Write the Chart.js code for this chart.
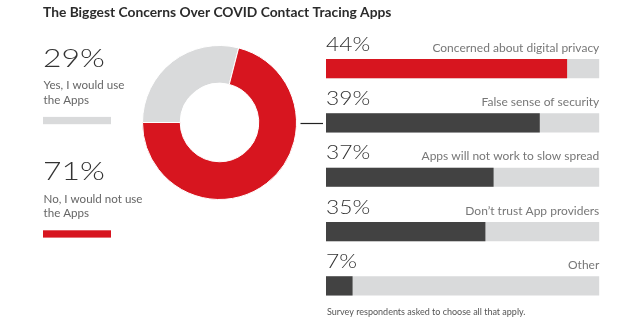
<!DOCTYPE html>
<html><head><meta charset="utf-8">
<script src="https://cdn.jsdelivr.net/npm/chart.js@4/dist/chart.umd.min.js"></script>
<style>
html,body{margin:0;padding:0;background:#fff;}
#wrap{position:relative;width:620px;height:326px;overflow:hidden;}
#wrap canvas{position:absolute;left:0;top:0;}
</style></head><body>
<div id="wrap">
<canvas id="donut" width="620" height="326"></canvas>
<canvas id="bars" width="620" height="326"></canvas>
</div>
<script>
// ---- data ----
const chartTitle = 'The Biggest Concerns Over COVID Contact Tracing Apps';
const answerLabels = [['Yes, I would use', 'the Apps'], ['No, I would not use', 'the Apps']];
const answerValues = [29, 71];
const concernLabels = ['Concerned about digital privacy', 'False sense of security',
  'Apps will not work to slow spread', 'Don\u2019t trust App providers', 'Other'];
const concernShares = [44, 39, 37, 35, 7];               // printed percentages
const concernBarLengths = [88.1, 78.1, 61.2, 58.2, 9.6]; // bar length as drawn (% of track)
const trackValues = [100, 100, 100, 100, 100];
const footnote = 'Survey respondents asked to choose all that apply.';

// ---- styles ----
const RED = '#d7151f', LIGHT = '#d9dadb', DARK = '#424242';
const FONT = 'Lato, "Open Sans", sans-serif';

Chart.defaults.animation = false;
Chart.defaults.events = [];
Chart.defaults.plugins.legend.display = false;
Chart.defaults.plugins.tooltip.enabled = false;

function wideText(ctx, s, x, y, sx) {
  ctx.save();
  ctx.translate(x, y);
  ctx.scale(sx, 1);
  ctx.fillText(s, 0, 0);
  ctx.restore();
}

const donutText = {
  id: 'donutText',
  afterDraw(chart) {
    const ctx = chart.ctx;
    const arc = chart.getDatasetMeta(0).data[0];
    ctx.save();
    ctx.textBaseline = 'alphabetic';
    // title
    ctx.fillStyle = '#2b2b2b';
    ctx.font = 'bold 13.8px ' + FONT;
    ctx.fillText(chartTitle, 43, 17);
    // connector line
    ctx.strokeStyle = '#222';
    ctx.lineWidth = 1.2;
    ctx.beginPath();
    ctx.moveTo(arc.x + arc.outerRadius + 4, Math.round(arc.y) + 0.5);
    ctx.lineTo(323, Math.round(arc.y) + 0.5);
    ctx.stroke();
    // left legend
    const colors = [LIGHT, RED];
    const bases = [66.6, 180];
    answerValues.forEach((v, i) => {
      const b = bases[i];
      ctx.fillStyle = '#333';
      ctx.font = '300 25.5px ' + FONT;
      wideText(ctx, v + '%', 43, b, 1.25);
      ctx.fillStyle = '#666';
      ctx.font = '11.6px ' + FONT;
      answerLabels[i].forEach((ln, j) => ctx.fillText(ln, 43.5, b + 22.8 + j * 14.2));
      ctx.fillStyle = colors[i];
      ctx.fillRect(43, b + 50.3, 68, 7.3);
    });
    ctx.restore();
  }
};

new Chart(document.getElementById('donut'), {
  type: 'doughnut',
  data: {
    labels: answerLabels.map(l => l.join(' ')),
    datasets: [{ data: answerValues, backgroundColor: [LIGHT, RED], borderColor: '#fff', borderWidth: 1 }]
  },
  options: {
    responsive: false,
    rotation: -90,
    cutout: '51%',
    layout: { padding: { left: 142, right: 323, top: 45, bottom: 126 } }
  },
  plugins: [donutText]
});

const barText = {
  id: 'barText',
  afterDatasetsDraw(chart) {
    const ctx = chart.ctx;
    const meta = chart.getDatasetMeta(0);
    const area = chart.chartArea;
    ctx.save();
    ctx.textBaseline = 'alphabetic';
    meta.data.forEach((el, i) => {
      const top = el.y - el.height / 2;
      ctx.fillStyle = '#333';
      ctx.font = '300 19px ' + FONT;
      ctx.textAlign = 'left';
      wideText(ctx, concernShares[i] + '%', area.left, top - 8.6, 1.2);
      ctx.fillStyle = '#777';
      ctx.font = '12px ' + FONT;
      ctx.textAlign = 'right';
      ctx.fillText(concernLabels[i], area.right, top - 7.8);
    });
    ctx.textAlign = 'left';
    ctx.fillStyle = '#555';
    ctx.font = '9px ' + FONT;
    ctx.fillText(footnote, area.left + 1, 314.8);
    ctx.restore();
  }
};

new Chart(document.getElementById('bars'), {
  type: 'bar',
  data: {
    labels: concernLabels,
    datasets: [
      { data: concernBarLengths, order: 0, grouped: false, barThickness: 18.5,
        backgroundColor: c => c.dataIndex === 0 ? RED : DARK },
      { data: trackValues, order: 1, grouped: false, barThickness: 18.5, backgroundColor: LIGHT }
    ]
  },
  options: {
    responsive: false,
    indexAxis: 'y',
    layout: { padding: { left: 326, right: 20.7, top: 41.5, bottom: 13 } },
    scales: {
      x: { display: false, min: 0, max: 100 },
      y: { display: false }
    }
  },
  plugins: [barText]
});
</script>
</body></html>
